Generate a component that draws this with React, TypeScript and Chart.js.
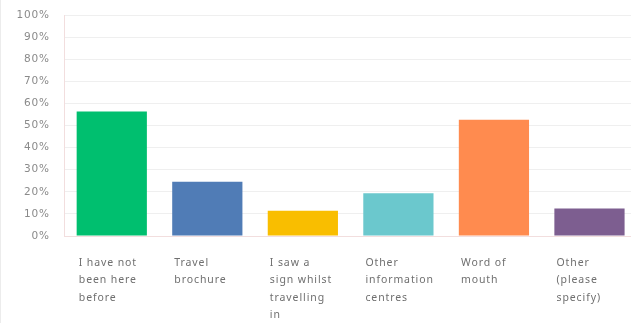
import React, { useEffect, useRef } from "react";
import { Chart, registerables } from "chart.js";

Chart.register(...registerables);

const categories: string[][] = [
  ["I have not", "been here", "before"],
  ["Travel", "brochure"],
  ["I saw a", "sign whilst", "travelling", "in"],
  ["Other", "information", "centres"],
  ["Word of", "mouth"],
  ["Other", "(please", "specify)"],
];
const values: number[] = [56.3, 24.5, 11.4, 19.4, 52.6, 12.5];
const colors: string[] = ["#00BF6F", "#507CB6", "#F9BE00", "#6BC8CD", "#FF8B4F", "#7D5E90"];
const yTicks: number[] = [0, 10, 20, 30, 40, 50, 60, 70, 80, 90, 100];

const spacingPlugin = {
  id: "letterSpacing",
  beforeDraw(chart: any) {
    chart.ctx.letterSpacing = "0.9px";
  },
};

export default function App() {
  const ref = useRef<HTMLCanvasElement | null>(null);
  useEffect(() => {
    if (!ref.current) return;
    const chart = new Chart(ref.current, {
      type: "bar",
      data: {
        labels: categories,
        datasets: [
          {
            data: values,
            backgroundColor: colors,
            borderWidth: 0,
            barPercentage: 0.735,
            categoryPercentage: 1,
          },
        ],
      },
      plugins: [spacingPlugin],
      options: {
        responsive: false,
        animation: false,
        layout: { padding: { top: 15, right: 3, left: 0, bottom: 0 } },
        plugins: { legend: { display: false }, tooltip: { enabled: false } },
        scales: {
          x: {
            grid: { display: false, drawTicks: false },
            border: { display: true, color: "#f2dede", width: 1 },
            afterFit: (s: any) => {
              s.height = 87;
            },
            ticks: {
              align: "start",
              labelOffset: -33,
              padding: 18,
              autoSkip: false,
              maxRotation: 0,
              color: "#6f6f6f",
              font: { family: "Noto Sans", size: 10.5, lineHeight: 1.67 },
            },
          },
          y: {
            min: 0,
            max: 100,
            afterBuildTicks: (s: any) => {
              s.ticks = yTicks.map((v) => ({ value: v }));
            },
            afterFit: (s: any) => {
              s.width = 64;
              s.paddingTop = 0;
              s.paddingBottom = 0;
            },
            grid: { color: "#efefef", drawTicks: false },
            border: { display: true, color: "#f2dede", width: 1 },
            ticks: {
              padding: 14,
              color: "#8a8a8a",
              font: { family: "DejaVu Sans", size: 10.5 },
              callback: (v: any) => v + "%",
            },
          },
        },
      },
    });
    return () => chart.destroy();
  }, []);
  return (
    <div
      style={{
        position: "fixed",
        left: 0,
        top: 0,
        width: 631,
        height: 323,
        overflow: "hidden",
        background: "#fff",
        borderLeft: "1px solid #ececec",
        boxSizing: "border-box",
      }}
    >
      <canvas ref={ref} width={645} height={323} style={{ position: "absolute", left: -1, top: 0 }} />
    </div>
  );
}
